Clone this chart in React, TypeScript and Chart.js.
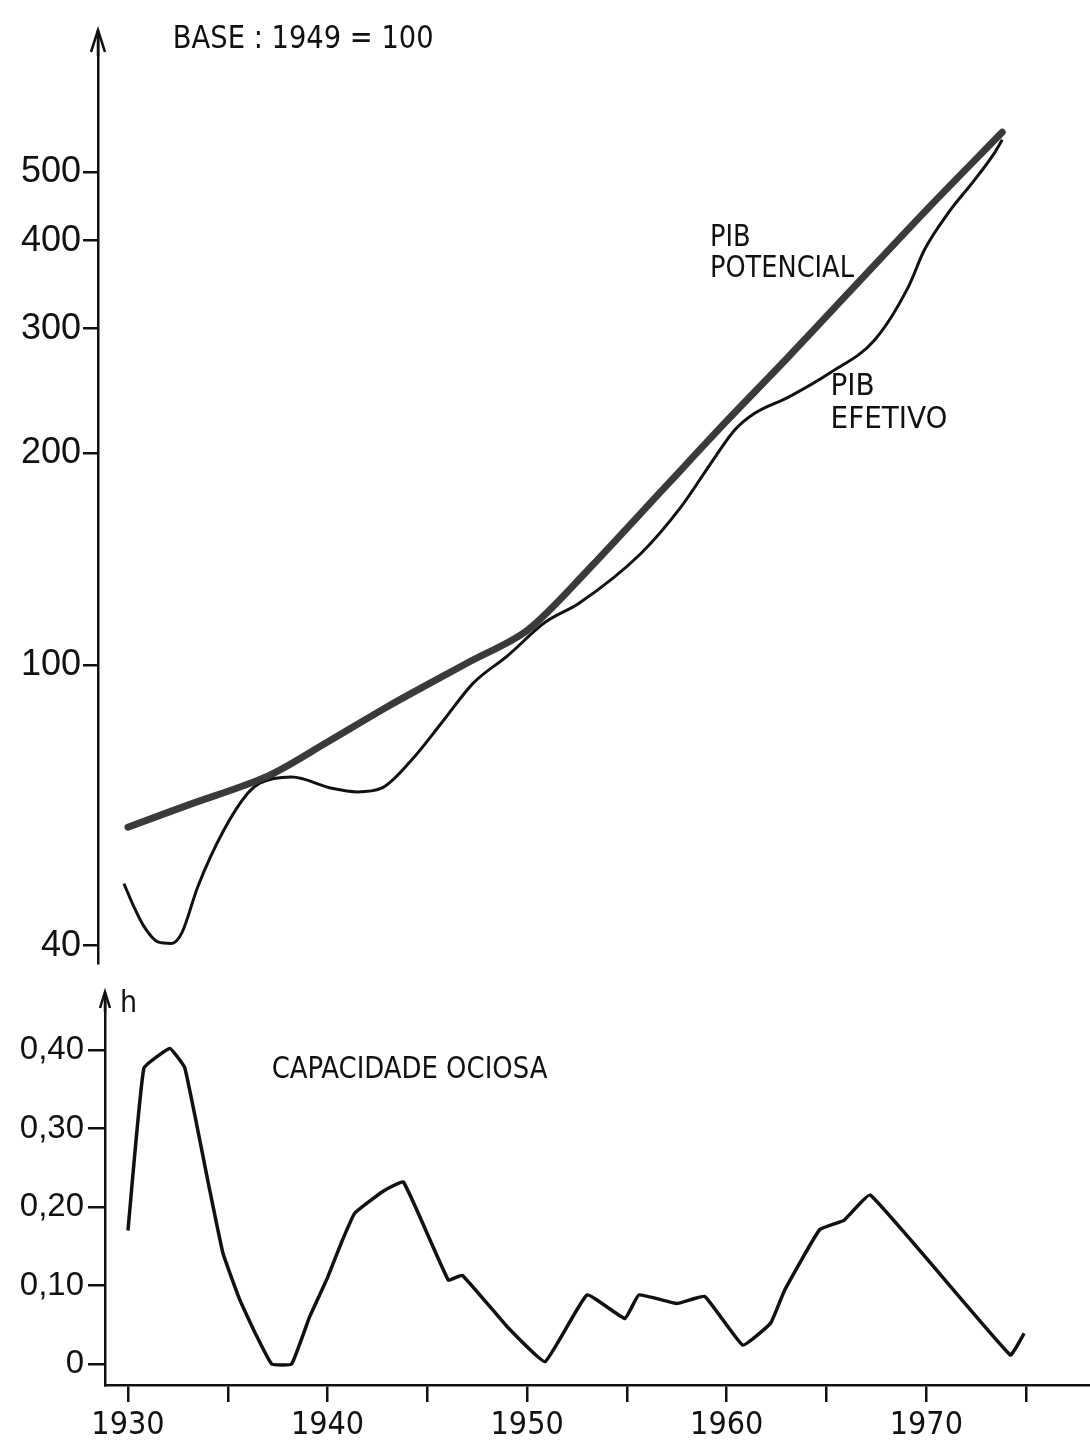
import React, { useEffect, useRef } from "react";
import { Chart, registerables } from "chart.js";

Chart.register(...registerables);

// ---------- data ----------
const potencialYears = [1930, 1933, 1937, 1940, 1943, 1947, 1950, 1953, 1957, 1960, 1963, 1966, 1970, 1973.8];
const potencialValues = [58.9, 63.3, 69.6, 77.8, 87.3, 100.7, 112, 136, 180, 222, 272, 335, 442, 570];

const efetivoYears = [
  1929.8, 1930.3, 1930.8, 1931.5, 1932.2, 1932.7, 1933.5, 1934.8, 1936.0, 1936.6, 1938.2, 1940.2,
  1941.5, 1942.7, 1944.2, 1945.7, 1947.3, 1949.0, 1950.9, 1952.6, 1955.7, 1957.7, 1959.4, 1960.4,
  1961.4, 1963.1, 1965.2, 1967.4, 1969.1, 1969.9, 1971.1, 1972.4, 1973.4, 1973.8,
];
const efetivoValues = [
  49.0, 45.4, 42.6, 40.5, 40.3, 41.7, 48.5, 58.3, 65.8, 68.0, 69.4, 66.9,
  66.1, 66.9, 73.3, 82.7, 94.3, 103, 115, 122.4, 144, 167.5, 197, 215.5,
  227.6, 240, 260, 289, 344, 388, 438, 487, 532, 556,
];

const ociosaYears = [
  1930.0, 1930.8, 1932.1, 1932.85, 1934.06, 1934.76, 1935.6, 1936.4, 1937.2, 1938.2, 1939.1, 1940.0,
  1940.7, 1941.36, 1942.75, 1943.8, 1946.05, 1946.75, 1949.0, 1950.9, 1953.0, 1954.9, 1955.6, 1957.5,
  1958.9, 1960.8, 1962.2, 1962.9, 1964.65, 1965.87, 1967.2, 1974.2, 1974.9,
];
const ociosaValues = [
  0.17, 0.377, 0.402, 0.377, 0.226, 0.141, 0.082, 0.038, 0.0, 0.0, 0.06, 0.11,
  0.155, 0.192, 0.2195, 0.232, 0.107, 0.113, 0.0475, 0.003, 0.088, 0.058, 0.088, 0.077,
  0.086, 0.024, 0.052, 0.094, 0.171, 0.183, 0.215, 0.0115, 0.039,
];

const topTickValues = [40, 100, 200, 300, 400, 500];
const bottomTickValues = [0, 0.1, 0.2, 0.3, 0.4];
const bottomTickLabels = ["0", "0,10", "0,20", "0,30", "0,40"];
const yearTickValues = [1930, 1935, 1940, 1945, 1950, 1955, 1960, 1965, 1970, 1975];
const yearTickLabels = ["1930", "", "1940", "", "1950", "", "1960", "", "1970", ""];

// ---------- styling ----------
const INK = "#111";
const NARROW = "'Liberation Sans Narrow', 'DejaVu Sans Condensed', 'Liberation Sans', sans-serif";
const SANS = "'Liberation Sans', 'DejaVu Sans', sans-serif";

const pts = (xs: number[], ys: number[]) => xs.map((x, i) => ({ x, y: ys[i] }));

function drawArrow(ctx: CanvasRenderingContext2D, x: number, tipY: number, w: number, h: number) {
  ctx.save();
  ctx.strokeStyle = INK;
  ctx.lineWidth = 2.5;
  ctx.beginPath();
  ctx.moveTo(x - w, tipY + h);
  ctx.lineTo(x, tipY);
  ctx.lineTo(x + w, tipY + h);
  ctx.stroke();
  ctx.beginPath();
  ctx.moveTo(x, tipY);
  ctx.lineTo(x, tipY + h + 4);
  ctx.stroke();
  ctx.restore();
}

function drawLabel(chart: any, text: string, xv: number, yv: number, font: string, sx = 1) {
  const ctx = chart.ctx as CanvasRenderingContext2D;
  const x = chart.scales.x.getPixelForValue(xv);
  const y = chart.scales.y.getPixelForValue(yv);
  ctx.save();
  ctx.fillStyle = INK;
  ctx.font = font;
  ctx.textAlign = "left";
  ctx.textBaseline = "middle";
  ctx.translate(x, y);
  ctx.scale(sx, 1);
  ctx.fillText(text, 0, 0);
  ctx.restore();
}

const topDecor = {
  id: "topDecor",
  afterDraw(chart: any) {
    const ctx = chart.ctx as CanvasRenderingContext2D;
    const a = chart.chartArea;
    drawArrow(ctx, a.left, a.top - 5, 7, 22);
    drawLabel(chart, "BASE : 1949 = 100", 1932.25, 772, `32px ${NARROW}`, 0.95);
    drawLabel(chart, "PIB", 1959.16, 403, `30px ${NARROW}`, 0.95);
    drawLabel(chart, "POTENCIAL", 1959.16, 364, `30px ${NARROW}`, 0.95);
    drawLabel(chart, "PIB", 1965.2, 248, `31px ${NARROW}`);
    drawLabel(chart, "EFETIVO", 1965.2, 222.5, `31px ${NARROW}`);
  },
};

const bottomDecor = {
  id: "bottomDecor",
  afterDraw(chart: any) {
    const ctx = chart.ctx as CanvasRenderingContext2D;
    const a = chart.chartArea;
    drawArrow(ctx, a.left, a.top - 3, 5, 16);
    drawLabel(chart, "h", 1929.6, 0.458, `30px ${NARROW}`);
    drawLabel(chart, "CAPACIDADE OCIOSA", 1937.2, 0.3745, `31px ${NARROW}`, 0.93);
  },
};

const fitWidth = (w: number) => (s: any) => {
  s.width = w;
  s.paddingTop = 0;
  s.paddingBottom = 0;
};

export default function App() {
  const topRef = useRef<HTMLCanvasElement>(null);
  const bottomRef = useRef<HTMLCanvasElement>(null);

  useEffect(() => {
    const topChart = new Chart(topRef.current!, {
      type: "line",
      data: {
        datasets: [
          {
            data: pts(potencialYears, potencialValues),
            borderColor: "#3a3a3a",
            borderWidth: 7,
            pointRadius: 0,
            tension: 0.3,
            borderCapStyle: "round",
          },
          {
            data: pts(potencialYears, potencialValues),
            borderColor: "#cfcfcf",
            borderWidth: 2.5,
            borderDash: [2, 3],
            pointRadius: 0,
            tension: 0.3,
          },
          {
            data: pts(efetivoYears, efetivoValues),
            borderColor: INK,
            borderWidth: 3,
            pointRadius: 0,
            cubicInterpolationMode: "monotone",
          },
        ],
      },
      options: {
        animation: false,
        responsive: false,
        events: [],
        layout: { padding: { top: 35, bottom: 17, left: 0, right: 0 } },
        plugins: { legend: { display: false }, tooltip: { enabled: false } },
        scales: {
          x: { type: "linear", min: 1928.5, max: 1978.2, display: false },
          y: {
            type: "logarithmic",
            min: 37.8,
            max: 783,
            afterFit: fitWidth(98),
            afterBuildTicks: (s: any) => {
              s.ticks = topTickValues.map((v) => ({ value: v }));
            },
            ticks: {
              autoSkip: false,
              padding: 2,
              color: INK,
              font: { family: SANS, size: 36 },
              callback: (v: any) => String(v),
            },
            grid: { drawOnChartArea: false, drawTicks: true, tickLength: 15, color: INK, lineWidth: 2.5 },
            border: { display: true, color: INK, width: 2.5 },
          },
        },
      } as any,
      plugins: [topDecor],
    });

    const bottomChart = new Chart(bottomRef.current!, {
      type: "line",
      data: {
        datasets: [
          {
            data: pts(ociosaYears, ociosaValues),
            borderColor: INK,
            borderWidth: 3.5,
            pointRadius: 0,
            tension: 0.1,
            borderJoinStyle: "round",
          },
        ],
      },
      options: {
        animation: false,
        responsive: false,
        events: [],
        layout: { padding: { top: 15, bottom: 0, left: 0, right: 0 } },
        plugins: { legend: { display: false }, tooltip: { enabled: false } },
        scales: {
          x: {
            type: "linear",
            min: 1928.85,
            max: 1978.2,
            afterFit: (s: any) => {
              s.height = 60;
              s.paddingLeft = 0;
              s.paddingRight = 0;
            },
            afterBuildTicks: (s: any) => {
              s.ticks = yearTickValues.map((v) => ({ value: v }));
            },
            ticks: {
              autoSkip: false,
              maxRotation: 0,
              padding: 4,
              color: INK,
              font: { family: NARROW, size: 32 },
              callback: (_v: any, i: number) => yearTickLabels[i],
            },
            grid: { drawOnChartArea: false, drawTicks: true, tickLength: 17, color: INK, lineWidth: 2.5 },
            border: { display: true, color: INK, width: 2.5 },
          },
          y: {
            type: "linear",
            min: -0.02675,
            max: 0.47,
            afterFit: fitWidth(105),
            afterBuildTicks: (s: any) => {
              s.ticks = bottomTickValues.map((v) => ({ value: v }));
            },
            ticks: {
              autoSkip: false,
              padding: 4,
              color: INK,
              font: { family: SANS, size: 33 },
              callback: (_v: any, i: number) => bottomTickLabels[i],
            },
            grid: { drawOnChartArea: false, drawTicks: true, tickLength: 17, color: INK, lineWidth: 2.5 },
            border: { display: true, color: INK, width: 2.5 },
          },
        },
      } as any,
      plugins: [bottomDecor],
    });

    return () => {
      topChart.destroy();
      bottomChart.destroy();
    };
  }, []);

  return (
    <div style={{ position: "absolute", left: 0, top: 0, width: 1090, height: 1445, background: "#fff", overflow: "hidden" }}>
      <canvas ref={topRef} width={1090} height={980} style={{ position: "absolute", left: 0, top: 0, display: "block" }} />
      <canvas ref={bottomRef} width={1090} height={465} style={{ position: "absolute", left: 0, top: 980, display: "block" }} />
    </div>
  );
}
